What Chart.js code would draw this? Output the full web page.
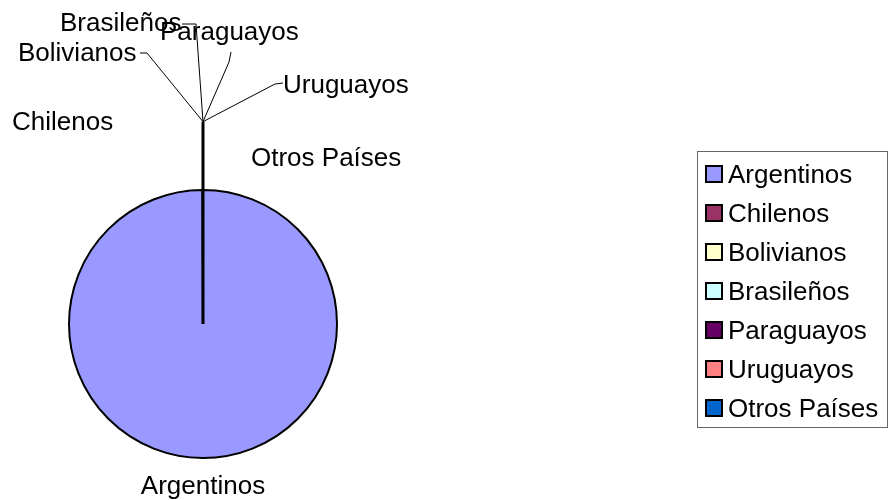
<!DOCTYPE html>
<html>
<head>
<meta charset="utf-8">
<script src="https://cdn.jsdelivr.net/npm/chart.js@4/dist/chart.umd.min.js"></script>
<style>
    body { margin: 0; background: #fff; }
    #wrap { width: 893px; height: 500px; }
</style>
</head>
<body>
<div id="wrap"><canvas id="nacionalidades" width="893" height="500"></canvas></div>
<script>
const categorias = ["Argentinos", "Chilenos", "Bolivianos", "Brasileños", "Paraguayos", "Uruguayos", "Otros Países"];
const valores = [99.976, 0.004, 0.004, 0.004, 0.004, 0.004, 0.004];
const colores = ["#9999FF", "#993366", "#FFFFCC", "#CCFFFF", "#660066", "#FF8080", "#0066CC"];

const FUENTE = '26px "Liberation Sans", Arial, sans-serif';

// label anchors, relative to the pie centre (x, baseline y, alignment)
const posEtiquetas = [
    [0, 170, "center"],
    [-191, -194, "left"],
    [-185, -263, "left"],
    [-143, -293, "left"],
    [-43, -284, "left"],
    [80, -231, "left"],
    [48, -158, "left"],
];

// leader line bends for the labels that have one (relative to the pie centre)
const guias = {
    2: [[-56, -271], [-63, -271]],
    3: [[-7, -300], [-21, -300]],
    4: [[26, -262], [28, -272]],
    5: [[72, -240], [80, -241]],
};

const etiquetasPlugin = {
    id: "etiquetas",
    afterDatasetsDraw(chart) {
        const ctx = chart.ctx;
        const arcs = chart.getDatasetMeta(0).data;
        const cx = arcs[0].x;
        const cy = arcs[0].y;
        const r = arcs[0].outerRadius;

        // stem going out where the slices close the circle
        const ang = arcs[arcs.length - 1].endAngle;
        const hx = cx + Math.cos(ang) * r * 1.51;
        const hy = cy + Math.sin(ang) * r * 1.51;

        ctx.save();
        ctx.strokeStyle = "#000";
        ctx.lineWidth = 3;
        ctx.beginPath();
        ctx.moveTo(cx, cy);
        ctx.lineTo(hx, hy);
        ctx.stroke();

        ctx.lineWidth = 1;
        Object.keys(guias).forEach((i) => {
            ctx.beginPath();
            ctx.moveTo(hx, hy);
            guias[i].forEach(([dx, dy]) => ctx.lineTo(cx + dx, cy + dy));
            ctx.stroke();
        });

        ctx.font = FUENTE;
        ctx.fillStyle = "#000";
        ctx.textBaseline = "alphabetic";
        categorias.forEach((nombre, i) => {
            const [dx, dy, al] = posEtiquetas[i];
            ctx.textAlign = al;
            ctx.fillText(nombre, cx + dx, cy + dy);
        });
        ctx.restore();
    },
    afterDraw(chart) {
        // legend box on the right
        const ctx = chart.ctx;
        ctx.save();
        ctx.strokeStyle = "#666";
        ctx.lineWidth = 1;
        ctx.strokeRect(697.5, 151.5, 190, 276);

        ctx.font = FUENTE;
        ctx.textAlign = "left";
        ctx.textBaseline = "alphabetic";
        categorias.forEach((nombre, i) => {
            const base = 183 + i * 39;
            ctx.fillStyle = colores[i];
            ctx.fillRect(706, base - 17, 16, 16);
            ctx.strokeStyle = "#000";
            ctx.lineWidth = 2;
            ctx.strokeRect(706, base - 17, 16, 16);
            ctx.fillStyle = "#000";
            ctx.fillText(nombre, 728, base);
        });
        ctx.restore();
    },
};

new Chart(document.getElementById("nacionalidades"), {
    type: "pie",
    data: {
        labels: categorias,
        datasets: [{
            data: valores,
            backgroundColor: colores,
            borderColor: "#000",
            borderWidth: 2,
        }],
    },
    options: {
        responsive: false,
        animation: false,
        layout: {
            padding: { left: 68, right: 555, top: 189, bottom: 41 },
        },
        plugins: {
            legend: { display: false },
            tooltip: { enabled: false },
        },
    },
    plugins: [etiquetasPlugin],
});
</script>
</body>
</html>
